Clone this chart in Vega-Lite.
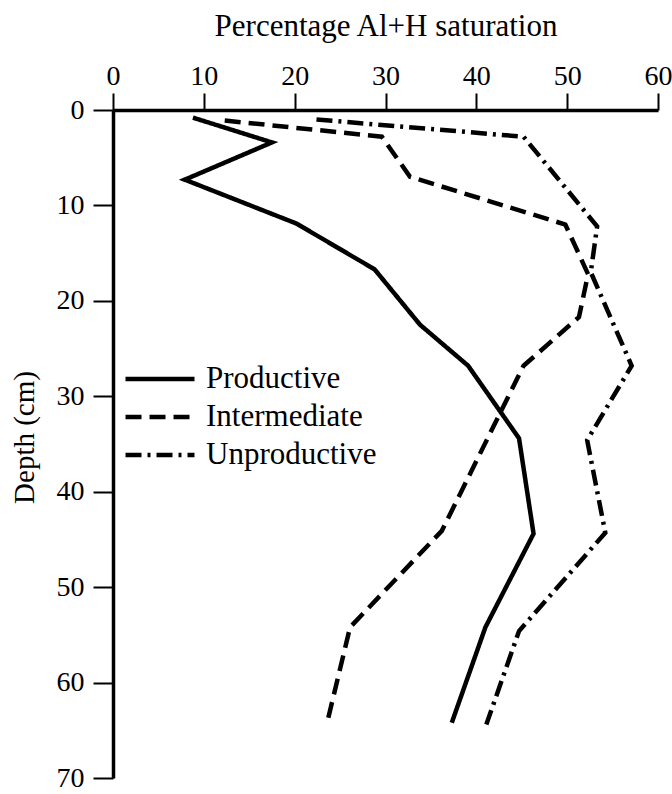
{
  "$schema": "https://vega.github.io/schema/vega-lite/v6.json",
  "width": 545,
  "height": 668,
  "autosize": "none",
  "padding": {"left": 113, "top": 110, "right": 14, "bottom": 16},
  "background": "white",
  "config": {"view": {"stroke": null}, "font": "Liberation Serif"},
  "data": {
    "values": [
      {"series": "Productive", "sat": 8.8, "depth": 0.8},
      {"series": "Productive", "sat": 17.5, "depth": 3.4},
      {"series": "Productive", "sat": 7.9, "depth": 7.3},
      {"series": "Productive", "sat": 20.2, "depth": 11.9},
      {"series": "Productive", "sat": 28.8, "depth": 16.7},
      {"series": "Productive", "sat": 33.8, "depth": 22.5},
      {"series": "Productive", "sat": 39.1, "depth": 26.8},
      {"series": "Productive", "sat": 44.7, "depth": 34.4},
      {"series": "Productive", "sat": 46.3, "depth": 44.4},
      {"series": "Productive", "sat": 41.0, "depth": 54.2},
      {"series": "Productive", "sat": 37.3, "depth": 64.2},
      {"series": "Intermediate", "sat": 12.3, "depth": 1.1},
      {"series": "Intermediate", "sat": 29.6, "depth": 2.8},
      {"series": "Intermediate", "sat": 32.7, "depth": 7.0},
      {"series": "Intermediate", "sat": 49.8, "depth": 12.0},
      {"series": "Intermediate", "sat": 52.3, "depth": 17.2},
      {"series": "Intermediate", "sat": 51.3, "depth": 21.7},
      {"series": "Intermediate", "sat": 45.2, "depth": 26.8},
      {"series": "Intermediate", "sat": 36.2, "depth": 44.1},
      {"series": "Intermediate", "sat": 26.1, "depth": 54.2},
      {"series": "Intermediate", "sat": 23.5, "depth": 64.5},
      {"series": "Unproductive", "sat": 22.4, "depth": 1.0},
      {"series": "Unproductive", "sat": 45.2, "depth": 2.8},
      {"series": "Unproductive", "sat": 53.3, "depth": 12.2},
      {"series": "Unproductive", "sat": 52.6, "depth": 17.0},
      {"series": "Unproductive", "sat": 57.1, "depth": 26.8},
      {"series": "Unproductive", "sat": 52.2, "depth": 34.6},
      {"series": "Unproductive", "sat": 54.2, "depth": 44.3},
      {"series": "Unproductive", "sat": 44.7, "depth": 54.6},
      {"series": "Unproductive", "sat": 41.1, "depth": 64.4}
    ]
  },
  "mark": {"type": "line", "strokeWidth": 4.5, "color": "black", "strokeCap": "butt", "strokeJoin": "miter"},
  "encoding": {
    "x": {
      "field": "sat",
      "type": "quantitative",
      "scale": {"domain": [0, 60], "nice": false, "zero": false},
      "axis": {
        "orient": "top",
        "title": "Percentage Al+H saturation",
        "values": [0, 10, 20, 30, 40, 50, 60],
        "grid": false,
        "domainColor": "black",
        "domainWidth": 3.5,
        "tickColor": "black",
        "tickWidth": 2,
        "tickSize": 17,
        "labelFont": "Liberation Serif",
        "labelFontSize": 28,
        "labelColor": "black",
        "labelPadding": 3,
        "labelFlush": false,
        "titleFont": "Liberation Serif",
        "titleFontSize": 31,
        "titleFontWeight": "normal",
        "titleColor": "black",
        "titlePadding": 20
      }
    },
    "y": {
      "field": "depth",
      "type": "quantitative",
      "scale": {"domain": [0, 70], "nice": false, "reverse": true},
      "axis": {
        "title": "Depth (cm)",
        "values": [0, 10, 20, 30, 40, 50, 60, 70],
        "grid": false,
        "domainColor": "black",
        "domainWidth": 3.5,
        "tickColor": "black",
        "tickWidth": 2,
        "tickSize": 20,
        "labelFont": "Liberation Serif",
        "labelFontSize": 28,
        "labelColor": "black",
        "labelPadding": 9,
        "labelFlush": false,
        "titleFont": "Liberation Serif",
        "titleFontSize": 29,
        "titleFontWeight": "normal",
        "titleColor": "black",
        "titlePadding": 17,
        "titleY": 327
      }
    },
    "strokeDash": {
      "field": "series",
      "type": "nominal",
      "scale": {
        "domain": ["Productive", "Intermediate", "Unproductive"],
        "range": [[1, 0], [16, 8], [16, 6, 3, 6]]
      },
      "legend": {
        "orient": "none",
        "legendX": 10,
        "legendY": 254,
        "title": null,
        "padding": 0,
        "symbolType": "stroke",
        "symbolSize": 4761,
        "symbolStrokeWidth": 4.5,
        "symbolStrokeColor": "black",
        "clipHeight": 30,
        "rowPadding": 7,
        "labelFont": "Liberation Serif",
        "labelFontSize": 31,
        "labelColor": "black",
        "labelOffset": 9,
        "labelLimit": 400
      }
    },
    "order": {"field": "depth", "type": "quantitative"}
  }
}
